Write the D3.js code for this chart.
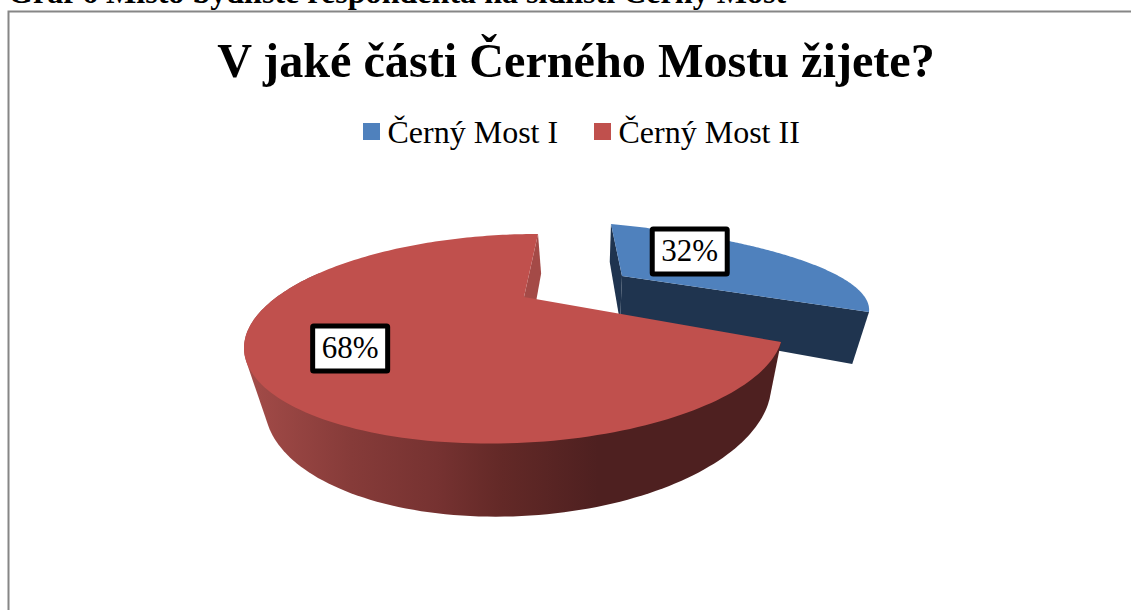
<!DOCTYPE html>
<html><head><meta charset="utf-8">
<script src="https://cdnjs.cloudflare.com/ajax/libs/d3/7.8.5/d3.min.js"></script>
<style>html,body{margin:0;padding:0;background:#fff;overflow:hidden}text{font-family:"Liberation Serif",serif}</style>
</head><body><svg id="c" width="1131" height="610"></svg>
<script>
const categories = ["Černý Most I", "Černý Most II"];
const values = [32, 68];
const percentLabels = ["32%", "68%"];
const topColors = ["#4f81bd", "#c0504d"];
const sideColors = ["#1f344f", "#a44a47"];
const chartTitle = "V jaké části Černého Mostu žijete?";
const caption = "Graf 6 Místo bydliště respondenta na sídlišti Černý Most";

// Ground-plane projection of each slice: disc (angle in degrees, radius 1) -> screen
const planes = [
  {center:[622,276], rim:[[0,611,224],[57.6,795,258],[115.2,869,312]]},
  {center:[524,297], rim:[[115.2,781,342],[242.3,244,347.5],[360,538,234]]}
];
const labelPolar = [[31,0.59],[228.5,0.713]];
const depth = {vx:590, t:0.06, dy0:38, y0:224, slope:0.16};

function solve(A,b){
  const n=b.length, M=A.map((r,i)=>[...r,b[i]]);
  for(let i=0;i<n;i++){
    let p=i; for(let j=i+1;j<n;j++) if(Math.abs(M[j][i])>Math.abs(M[p][i])) p=j;
    [M[i],M[p]]=[M[p],M[i]];
    for(let j=0;j<n;j++) if(j!==i){const f=M[j][i]/M[i][i]; for(let k=i;k<=n;k++) M[j][k]-=f*M[i][k];}
  }
  return M.map((r,i)=>r[n]/r[i]);
}
const disc=(deg,r=1)=>{const a=deg*Math.PI/180;return [r*Math.sin(a),-r*Math.cos(a)];};
function makeProjection(pl){
  const pts=[[[0,0],pl.center],...pl.rim.map(d=>[disc(d[0]),[d[1],d[2]]])];
  const A=[],b=[];
  pts.forEach(([[x,y],[X,Y]])=>{
    A.push([x,y,1,0,0,0,-x*X,-y*X]);b.push(X);
    A.push([0,0,0,x,y,1,-x*Y,-y*Y]);b.push(Y);
  });
  const h=solve(A,b);
  return (deg,r=1)=>{const [x,y]=disc(deg,r),w=h[6]*x+h[7]*y+1;
    return [(h[0]*x+h[1]*y+h[2])/w,(h[3]*x+h[4]*y+h[5])/w];};
}
const lower=p=>[p[0]+(depth.vx-p[0])*depth.t, p[1]+depth.dy0+depth.slope*(p[1]-depth.y0)];
const line=d3.line();

const svg=d3.select("#c");
const defs=svg.append("defs");
const grad=defs.append("linearGradient").attr("id","wall").attr("gradientUnits","userSpaceOnUse")
  .attr("x1",244).attr("x2",781).attr("y1",0).attr("y2",0);
[[0,"#a44c49"],[0.2,"#863b39"],[0.36,"#763231"],[0.48,"#632927"],[0.66,"#4e2020"],[1,"#4e2020"]].forEach(s=>
  grad.append("stop").attr("offset",s[0]).attr("stop-color",s[1]));

svg.append("text").attr("x",8).attr("y",3).attr("font-size",32.1).attr("font-weight",700).text(caption);
svg.append("path").attr("d","M8.5,610V11.5H1131").attr("fill","none").attr("stroke","#868686").attr("stroke-width",2);
svg.append("text").attr("x",576).attr("y",77).attr("text-anchor","middle").attr("font-size",48.2).attr("font-weight",700).text(chartTitle);

const legendX=[363,594];
categories.forEach((c,i)=>{
  svg.append("rect").attr("x",legendX[i]).attr("y",123).attr("width",17).attr("height",17).attr("fill",topColors[i]);
  svg.append("text").attr("x",legendX[i]+24.5).attr("y",142.5).attr("font-size",32).text(c);
});

const pie=d3.pie().sort(null).value(d=>d).startAngle(0).endAngle(2*Math.PI)(values);
const toDeg=a=>a*180/Math.PI;
const slices=pie.map((p,i)=>({i,a0:toDeg(p.startAngle),a1:toDeg(p.endAngle),proj:makeProjection(planes[i])}));

slices.forEach(s=>{
  const g=svg.append("g");
  const arcPts=d3.range(0,193).map(k=>s.proj(s.a0+(s.a1-s.a0)*k/192));
  const c=s.proj(0,0);
  const st=arcPts[0], en=arcPts[192];
  if(s.i===0){
    g.append("path").attr("d",line([st,c,lower(c),lower(st)])+"Z").attr("fill",sideColors[0]);
    g.append("path").attr("d",line([c,en,lower(en),lower(c)])+"Z").attr("fill",sideColors[0]);
  } else {
    g.append("path").attr("d",line([en,c,lower(c),lower(en)])+"Z").attr("fill",sideColors[1]);
    // front wall: hull of the front part of the rim and its lower edge
    const front=arcPts.slice(0,136);
    g.append("path").attr("d",line(d3.polygonHull([...front,...front.map(lower)]))+"Z").attr("fill","url(#wall)");
  }
  g.append("path").attr("d",line([c,...arcPts])+"Z").attr("fill",topColors[s.i]);
});

slices.forEach(s=>{
  const [x,y]=s.proj(labelPolar[s.i][0],labelPolar[s.i][1]);
  svg.append("rect").attr("x",x-37.5).attr("y",y-22.5).attr("width",75).attr("height",45).attr("rx",1)
    .attr("fill","#fff").attr("stroke","#000").attr("stroke-width",5);
  svg.append("text").attr("x",x).attr("y",y+10).attr("text-anchor","middle").attr("font-size",31).text(percentLabels[s.i]);
});
</script></body></html>
